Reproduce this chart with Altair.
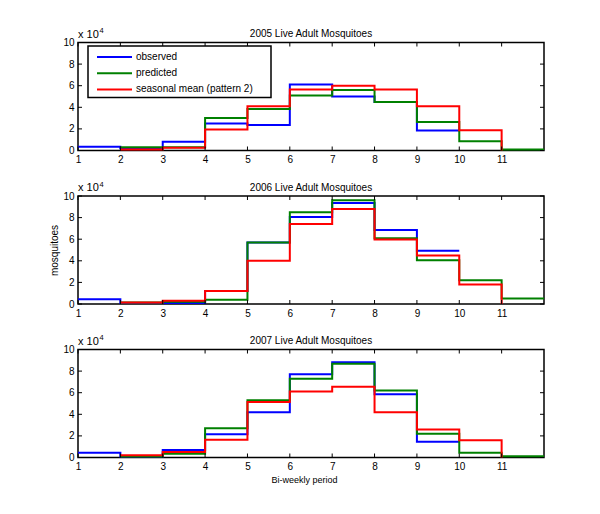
import altair as alt
import pandas as pd

FONT = "Liberation Sans"

years = ["2005", "2006", "2007"]
panel_titles = ["2005 Live Adult Mosquitoes", "2006 Live Adult Mosquitoes", "2007 Live Adult Mosquitoes"]
series_names = ["observed", "predicted", "seasonal mean (pattern 2)"]
series_colors = ["#0000FF", "#008000", "#FF0000"]

# x positions (bi-weekly period) of each series' stair points
obs_x = [1, 2, 3, 4, 5, 6, 7, 8, 9, 10]
pred_x = [2, 3, 4, 5, 6, 7, 8, 9, 10, 11, 12]
mean_x = [2, 3, 4, 5, 6, 7, 8, 9, 10, 11]

# values in units of 10^4 mosquitoes
obs_2005 = [0.35, 0.2, 0.8, 2.5, 2.35, 6.1, 5.0, 4.5, 1.85, 1.85]
pred_2005 = [0.3, 0.3, 3.0, 3.85, 5.1, 5.6, 4.5, 2.65, 0.86, 0.1, 0.1]
mean_2005 = [0.1, 0.25, 1.95, 4.1, 5.65, 6.0, 5.65, 4.1, 1.88, 0.0]

obs_2006 = [0.45, 0.1, 0.1, 1.2, 5.7, 8.05, 9.35, 6.86, 4.92, 4.92]
pred_2006 = [0.15, 0.2, 0.4, 5.7, 8.5, 9.6, 6.09, 4.06, 2.2, 0.52, 0.52]
mean_2006 = [0.15, 0.3, 1.2, 4.0, 7.4, 8.8, 5.97, 4.49, 1.8, 0.0]

obs_2007 = [0.45, 0.1, 0.7, 2.15, 4.2, 7.7, 8.83, 5.85, 1.45, 1.45]
pred_2007 = [0.1, 0.35, 2.7, 5.3, 7.3, 8.68, 6.2, 2.2, 0.43, 0.12, 0.12]
mean_2007 = [0.2, 0.5, 1.65, 5.15, 6.1, 6.55, 4.2, 2.6, 1.6, 0.0]

x_ticks = [1, 2, 3, 4, 5, 6, 7, 8, 9, 10, 11]
y_ticks = [0, 2, 4, 6, 8, 10]
x_domain = [1, 12]
y_domain = [0, 10]

W, H = 466, 108
TICK = 4

data_by_year = {
    "2005": [obs_2005, pred_2005, mean_2005],
    "2006": [obs_2006, pred_2006, mean_2006],
    "2007": [obs_2007, pred_2007, mean_2007],
}
xs = [obs_x, pred_x, mean_x]


def panel(year, idx):
    xscale = alt.Scale(domain=x_domain, nice=False, zero=False)
    yscale = alt.Scale(domain=y_domain, nice=False, zero=False)
    if idx == 2:
        xaxis = alt.Axis(values=x_ticks, title="Bi-weekly period", labelFlush=False,
                         titlePadding=4, titleX=226, titleFontSize=9)
    else:
        xaxis = alt.Axis(values=x_ticks, title=None, labelFlush=False)
    if idx == 1:
        yaxis = alt.Axis(values=y_ticks, title="mosquitoes", titleX=-19)
    else:
        yaxis = alt.Axis(values=y_ticks, title=None)

    def X():
        return alt.X("x:Q", scale=xscale, axis=xaxis)

    def Y():
        return alt.Y("y:Q", scale=yscale, axis=yaxis)

    layers = []
    for vals, xv, color in zip(data_by_year[year], xs, series_colors):
        df = pd.DataFrame({"x": xv, "y": vals})
        layers.append(
            alt.Chart(df).mark_line(interpolate="step-after", color=color, strokeWidth=2)
            .encode(x=X(), y=Y())
        )

    xt = pd.DataFrame({"x": x_ticks})
    yt = pd.DataFrame({"y": y_ticks})
    tick_style = dict(color="black", strokeWidth=1)
    layers.append(alt.Chart(xt).mark_rule(**tick_style).encode(
        x=X(), y=alt.value(0), y2=alt.value(TICK)))
    layers.append(alt.Chart(xt).mark_rule(**tick_style).encode(
        x=X(), y=alt.value(H), y2=alt.value(H - TICK)))
    layers.append(alt.Chart(yt).mark_rule(**tick_style).encode(
        y=Y(), x=alt.value(0), x2=alt.value(TICK)))
    layers.append(alt.Chart(yt).mark_rule(**tick_style).encode(
        y=Y(), x=alt.value(W), x2=alt.value(W - TICK)))

    # panel title
    layers.append(alt.Chart(pd.DataFrame({"t": [panel_titles[idx]]})).mark_text(
        align="center", baseline="alphabetic", fontSize=10, font=FONT, color="black"
    ).encode(text="t:N", x=alt.value(W / 2), y=alt.value(-5.5)))

    # "x 10^4" exponent label
    layers.append(alt.Chart(pd.DataFrame({"t": ["x 10"]})).mark_text(
        align="left", baseline="alphabetic", fontSize=11, font=FONT, color="black"
    ).encode(text="t:N", x=alt.value(0), y=alt.value(-5)))
    layers.append(alt.Chart(pd.DataFrame({"t": ["4"]})).mark_text(
        align="left", baseline="alphabetic", fontSize=7.5, font=FONT, color="black"
    ).encode(text="t:N", x=alt.value(21.5), y=alt.value(-9.5)))

    if idx == 0:
        layers.append(alt.Chart(pd.DataFrame({"a": [0]})).mark_rect(
            fill="white", stroke="black", strokeWidth=1.5
        ).encode(x=alt.value(10), x2=alt.value(193), y=alt.value(3.5), y2=alt.value(55)))
        for i, (name, color) in enumerate(zip(series_names, series_colors)):
            yy = 14.5 + 16.2 * i
            d = pd.DataFrame({"label": [name]})
            layers.append(alt.Chart(d).mark_rule(color=color, strokeWidth=2).encode(
                x=alt.value(19), x2=alt.value(54), y=alt.value(yy)))
            layers.append(alt.Chart(d).mark_text(
                align="left", baseline="middle", fontSize=10, font=FONT, color="black"
            ).encode(text="label:N", x=alt.value(58), y=alt.value(yy)))

    return alt.layer(*layers).properties(width=W, height=H)


chart = alt.vconcat(*[panel(y, i) for i, y in enumerate(years)],
                    spacing=45.5, bounds="flush").properties(
    padding={"left": 40, "top": 17.5, "right": 5, "bottom": 5}
).configure_view(stroke="black", strokeWidth=1.5).configure_axis(
    grid=False, domain=False, ticks=False, labelFontSize=10, labelFont=FONT,
    labelColor="black", labelPadding=4, titleFont=FONT, titleFontSize=10,
    titleFontWeight="normal", titleColor="black"
)

chart.save("out.html", embed_options={"renderer": "svg", "actions": False})
